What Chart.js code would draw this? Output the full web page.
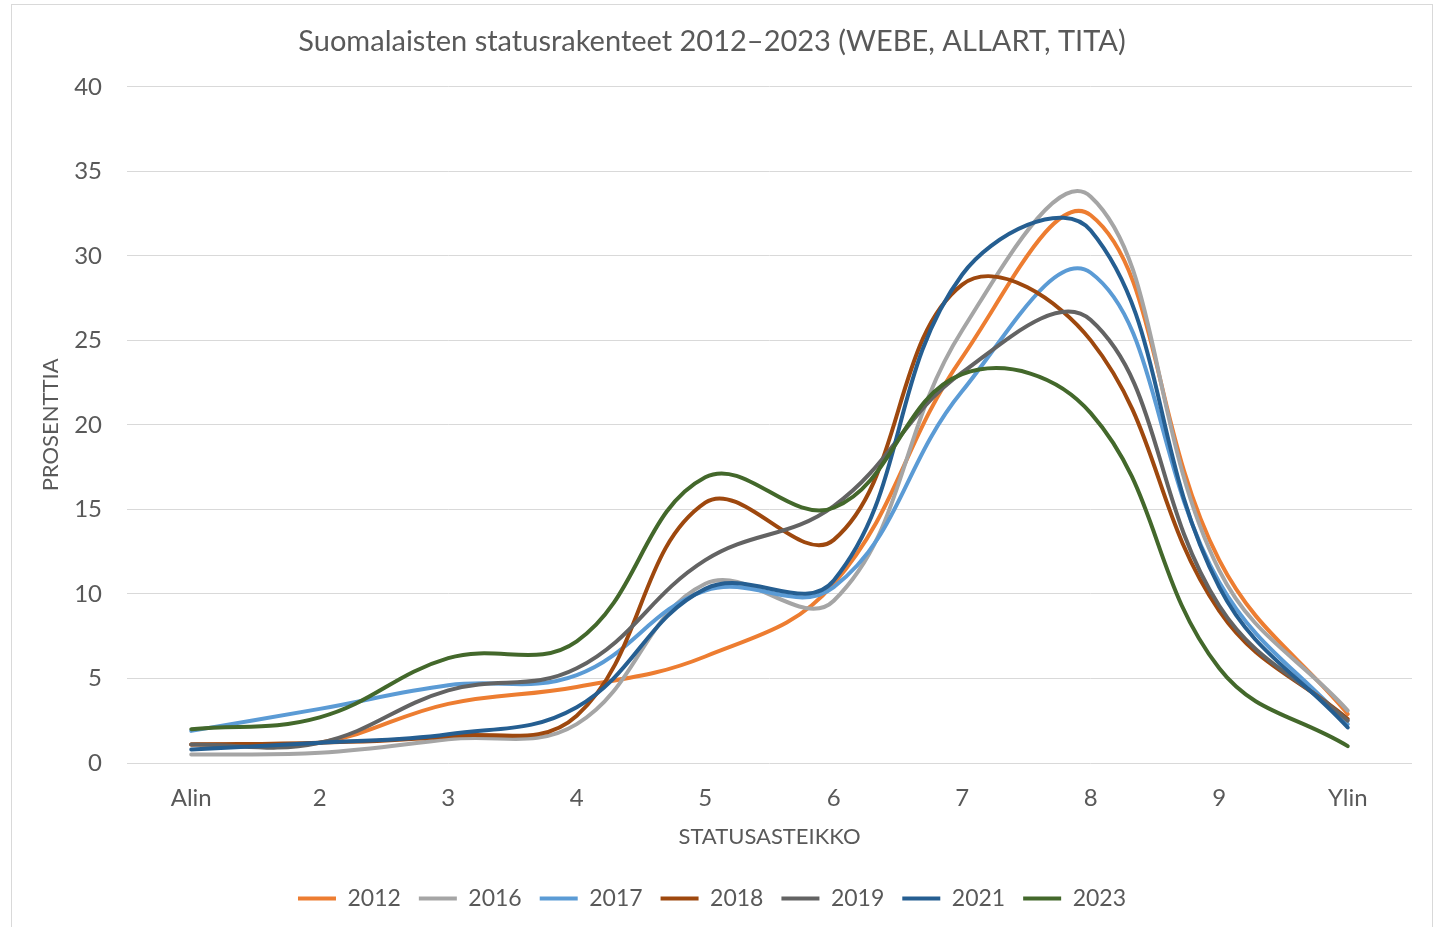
<!DOCTYPE html>
<html lang="fi">
<head>
<meta charset="utf-8">
<title>Suomalaisten statusrakenteet 2012–2023</title>
<script src="https://cdn.jsdelivr.net/npm/chart.js@4/dist/chart.umd.min.js"></script>
<style>
  html, body { margin: 0; padding: 0; background: #fff; }
  #wrap { width: 1440px; height: 927px; position: relative; overflow: hidden; }
</style>
</head>
<body>
<div id="wrap"><canvas id="statusChart" width="1440" height="927"></canvas></div>
<script>
/* ---------------- Data ---------------- */
const categories = ['Alin', '2', '3', '4', '5', '6', '7', '8', '9', 'Ylin'];
const years = ['2012', '2016', '2017', '2018', '2019', '2021', '2023'];

const s2012 = [1.1, 1.2, 3.5, 4.5, 6.3, 10.6, 24.0, 32.4, 12.0, 2.9];
const s2016 = [0.5, 0.6, 1.4, 2.3, 10.6, 9.6, 25.6, 33.5, 11.4, 3.1];
const s2017 = [1.9, 3.2, 4.6, 5.2, 10.2, 10.4, 22.0, 29.0, 10.7, 2.3];
const s2018 = [1.1, 1.2, 1.6, 2.8, 15.4, 13.2, 28.3, 25.0, 9.0, 2.6];
const s2019 = [1.1, 1.2, 4.3, 5.6, 12.0, 15.2, 23.1, 26.2, 9.3, 2.5];
const s2021 = [0.8, 1.2, 1.7, 3.3, 10.3, 10.8, 28.9, 31.5, 10.4, 2.1];
const s2023 = [2.0, 2.7, 6.2, 7.2, 16.9, 15.1, 23.0, 20.7, 5.6, 1.0];
const seriesValues = [s2012, s2016, s2017, s2018, s2019, s2021, s2023];

const seriesColors = ['#ED7D31', '#A5A5A5', '#5B9BD5', '#9E480E', '#636363', '#255E91', '#43682B'];
const yTicks = [0, 5, 10, 15, 20, 25, 30, 35, 40];

const textColor = '#595959';
const gridColor = '#D9D9D9';
const fontFamily = 'Lato, "Open Sans", sans-serif';

/* ---------------- Frame plugin ---------------- */
const framePlugin = {
    id: 'frame',
    beforeDraw(chart) {
        const ctx = chart.ctx;
        ctx.save();
        ctx.strokeStyle = gridColor;
        ctx.lineWidth = 1;
        ctx.strokeRect(11.5, 4.5, 1421, 940);
        ctx.restore();
    }
};

/* ---------------- Chart ---------------- */
const datasets = years.map((y, i) => ({
    label: y,
    data: seriesValues[i],
    borderColor: seriesColors[i],
    backgroundColor: seriesColors[i],
    borderWidth: 4,
    borderCapStyle: 'round',
    pointRadius: 0,
    pointHoverRadius: 0,
    pointStyle: 'line',
    tension: 0.4,
    fill: false,
    order: years.length - i
}));

new Chart(document.getElementById('statusChart'), {
    type: 'line',
    data: { labels: categories, datasets },
    options: {
        responsive: false,
        animation: false,
        layout: { padding: { left: 12, right: 28, top: 0, bottom: 7 } },
        plugins: {
            title: {
                display: true,
                text: 'Suomalaisten statusrakenteet 2012–2023 (WEBE, ALLART, TITA)',
                color: textColor,
                font: { family: fontFamily, size: 29, weight: 'normal' },
                padding: { top: 24, bottom: 28 }
            },
            legend: {
                position: 'bottom',
                labels: {
                    color: textColor,
                    font: { family: fontFamily, size: 23 },
                    usePointStyle: true,
                    pointStyleWidth: 38,
                    padding: 18,
                    sort: (a, b) => a.datasetIndex - b.datasetIndex
                }
            },
            tooltip: { enabled: false }
        },
        scales: {
            x: {
                offset: true,
                grid: { display: false, drawTicks: false },
                border: { display: false },
                ticks: {
                    color: textColor,
                    font: { family: fontFamily, size: 24 },
                    padding: 21,
                    maxRotation: 0
                },
                title: {
                    display: true,
                    text: 'STATUSASTEIKKO',
                    color: textColor,
                    font: { family: fontFamily, size: 22 },
                    padding: { top: 0, bottom: 19 }
                },
                afterFit: (s) => { s.height = 106; }
            },
            y: {
                min: 0,
                max: 40,
                afterBuildTicks: (s) => { s.ticks = yTicks.map(v => ({ value: v })); },
                grid: { color: gridColor, lineWidth: 1, drawTicks: false },
                border: { display: false },
                ticks: {
                    color: textColor,
                    font: { family: fontFamily, size: 24 },
                    padding: 25
                },
                title: {
                    display: true,
                    text: 'PROSENTTIA',
                    color: textColor,
                    font: { family: fontFamily, size: 22 },
                    padding: { top: 26, bottom: 0 }
                },
                afterFit: (s) => { s.width = 115; }
            }
        }
    },
    plugins: [framePlugin]
});
</script>
</body>
</html>
